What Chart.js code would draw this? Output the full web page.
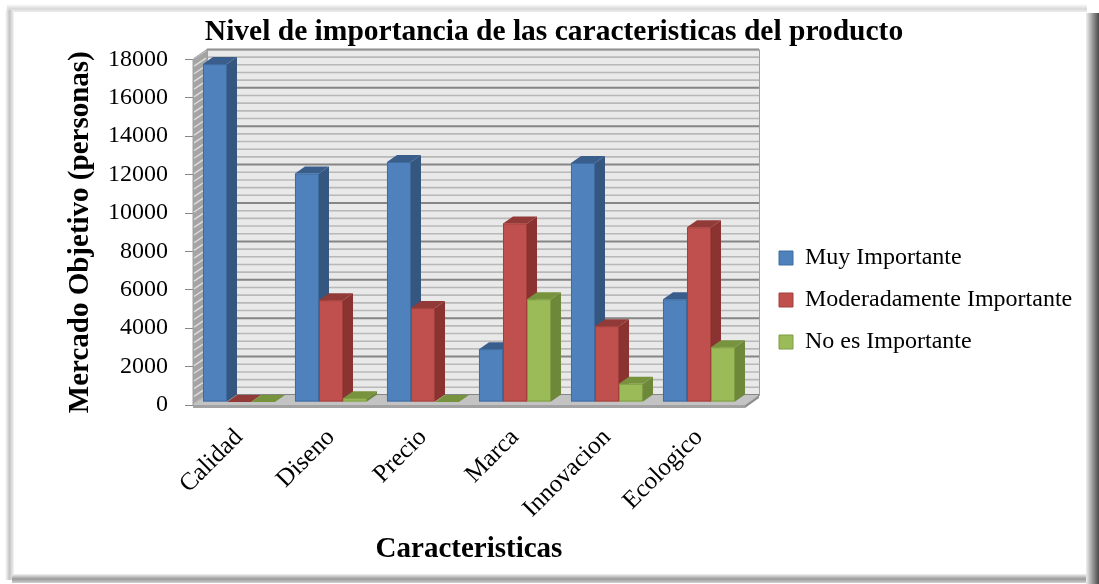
<!DOCTYPE html>
<html>
<head>
<meta charset="utf-8">
<script src="https://cdn.jsdelivr.net/npm/chart.js@4/dist/chart.umd.min.js"></script>
<style>
html,body{margin:0;padding:0;background:#fff;}
#wrap{width:1099px;height:584px;position:relative;}
</style>
</head>
<body>
<div id="wrap"><canvas id="c" width="1099" height="584"></canvas></div>
<script>
// ---- data ----
const categories = ['Calidad', 'Diseno', 'Precio', 'Marca', 'Innovacion', 'Ecologico'];
const seriesNames = ['Muy Importante', 'Moderadamente Importante', 'No es Importante'];
const muyImportante = [17600, 11900, 12500, 2750, 12450, 5350];
const moderadamenteImportante = [0, 5300, 4900, 9300, 3950, 9100];
const noEsImportante = [0, 200, 0, 5350, 950, 2850];
const yMax = 18000;
const yStep = 2000;
const yMinorStep = 400;
const chartTitle = 'Nivel de importancia de las caracteristicas del producto';
const xTitle = 'Caracteristicas';
const yTitle = 'Mercado Objetivo (personas)';

// ---- styles ----
const FONT = "'Liberation Serif', 'Times New Roman', serif";
const faces = [
  {front: '#4F81BD', edge: '#3F6C9F', side: '#35567F', top: '#3A5E8B'},
  {front: '#C0504D', edge: '#A1403D', side: '#8A3331', top: '#923A37'},
  {front: '#9BBB59', edge: '#7F9C44', side: '#6E883A', top: '#77933E'}
];
const BD = {x: 10, y: 7};   // bar depth
const WD = {x: 14, y: 10};  // wall depth
const SET = 3;              // bars set back from front plane
const LEGEND_LEFT = 761;
const LEGEND_TOP = 228;
const TITLE_CENTER = 554;

function poly(ctx, pts) {
  ctx.beginPath();
  ctx.moveTo(pts[0][0], pts[0][1]);
  for (let i = 1; i < pts.length; i++) ctx.lineTo(pts[i][0], pts[i][1]);
  ctx.closePath();
}

const framePlugin = {
  id: 'frame',
  beforeDraw(chart) {
    const ctx = chart.ctx, W = chart.width, H = chart.height;
    ctx.save();
    ctx.fillStyle = '#fff';
    ctx.fillRect(0, 0, W, H);
    let g = ctx.createLinearGradient(0, 4, 0, 12);
    g.addColorStop(0, '#ffffff'); g.addColorStop(0.6, '#d8d8d8'); g.addColorStop(1, '#ededed');
    ctx.fillStyle = g; ctx.fillRect(7, 4, 1080, 8);
    g = ctx.createLinearGradient(5, 0, 14, 0);
    g.addColorStop(0, '#ffffff'); g.addColorStop(0.5, '#c4c4c4'); g.addColorStop(1, '#f4f4f4');
    ctx.fillStyle = g; ctx.fillRect(5, 10, 9, 570);
    g = ctx.createLinearGradient(0, 574, 0, 584);
    g.addColorStop(0, '#f2f2f2'); g.addColorStop(0.5, '#9a9a9a'); g.addColorStop(1, '#e0e0e0');
    ctx.fillStyle = g; ctx.fillRect(12, 574, 1076, 9);
    g = ctx.createLinearGradient(1086, 0, 1099, 0);
    g.addColorStop(0, '#f0f0f0'); g.addColorStop(0.5, '#9a9a9a'); g.addColorStop(1, '#4a4a4a');
    ctx.fillStyle = g; ctx.fillRect(1086, 13, 13, 571);
    ctx.restore();
  }
};

const wallPlugin = {
  id: 'wall',
  beforeDatasetsDraw(chart) {
    const {ctx, chartArea: a, scales: {y}} = chart;
    const top = y.getPixelForValue(yMax), bot = y.getPixelForValue(0);
    const L = a.left, R = a.right;
    ctx.save();
    // back wall
    ctx.fillStyle = '#e9e9e9';
    ctx.fillRect(L + WD.x, top - WD.y, R - L, bot - top);
    // side wall
    ctx.fillStyle = '#a4a4a4';
    poly(ctx, [[L, top], [L + WD.x, top - WD.y], [L + WD.x, bot - WD.y], [L, bot]]);
    ctx.fill();
    // grid lines
    for (let v = 0; v <= yMax; v += yMinorStep) {
      const py = y.getPixelForValue(v);
      const major = v % yStep === 0;
      ctx.strokeStyle = major ? '#858585' : '#b8b8b8';
      ctx.lineWidth = major ? 2 : 1.6;
      ctx.beginPath();
      ctx.moveTo(L + WD.x, py - WD.y);
      ctx.lineTo(R + WD.x, py - WD.y);
      ctx.stroke();
      ctx.strokeStyle = '#dedede';
      ctx.lineWidth = 1.4;
      ctx.beginPath();
      ctx.moveTo(L + 1, py - 1);
      ctx.lineTo(L + WD.x - 1, py - WD.y + 1);
      ctx.stroke();
    }
    // wall outline
    ctx.strokeStyle = '#a0a0a0';
    ctx.lineWidth = 1;
    ctx.strokeRect(L + WD.x + 0.5, top - WD.y + 0.5, R - L, bot - top);
    poly(ctx, [[L, top], [L + WD.x, top - WD.y], [L + WD.x, bot - WD.y], [L, bot]]);
    ctx.stroke();
    // floor
    ctx.fillStyle = '#c3c3c3';
    poly(ctx, [[L, bot], [L + WD.x, bot - WD.y], [R + WD.x, bot - WD.y], [R, bot]]);
    ctx.fill();
    ctx.fillStyle = '#a2a2a2';
    ctx.fillRect(L, bot, R - L, 3);
    ctx.fillStyle = '#8e8e8e';
    poly(ctx, [[R, bot], [R + WD.x, bot - WD.y], [R + WD.x, bot - WD.y + 3], [R, bot + 3]]);
    ctx.fill();
    ctx.restore();
  },
  beforeDatasetDraw() { return false; },
  afterDatasetsDraw(chart) {
    const ctx = chart.ctx;
    const items = [];
    chart.data.datasets.forEach((ds, di) => {
      const meta = chart.getDatasetMeta(di);
      if (meta.hidden) return;
      meta.data.forEach(bar => items.push({bar, di}));
    });
    items.sort((p, q) => p.bar.x - q.bar.x);
    ctx.save();
    items.forEach(({bar, di}) => {
      const {x, y, base, width} = bar.getProps(['x', 'y', 'base', 'width'], true);
      const f = faces[di];
      const l = x - width / 2, r = x + width / 2;
      const t = y - SET, b = base - SET;
      ctx.fillStyle = f.side;
      poly(ctx, [[r, t], [r + BD.x, t - BD.y], [r + BD.x, b - BD.y], [r, b]]);
      ctx.fill();
      ctx.fillStyle = f.top;
      poly(ctx, [[l, t], [l + BD.x, t - BD.y], [r + BD.x, t - BD.y], [r, t]]);
      ctx.fill();
      ctx.fillStyle = f.front;
      ctx.fillRect(l, t, width, b - t);
      if (b - t > 1) {
        ctx.strokeStyle = f.edge;
        ctx.lineWidth = 1;
        ctx.strokeRect(l + 0.5, t + 0.5, width - 1, b - t - 1);
      }
    });
    ctx.restore();
  }
};

const placePlugin = {
  id: 'place',
  afterLayout(chart) {
    const lg = chart.legend;
    if (lg) {
      const dx = LEGEND_LEFT - lg.left, dy = LEGEND_TOP - lg.top;
      lg.left += dx; lg.top += dy; lg.bottom += dy;
      lg.right = chart.width - 8;
    }
    const tb = chart.titleBlock;
    if (tb) {
      const dx = TITLE_CENTER - (tb.left + tb.right) / 2;
      tb.left += dx; tb.right += dx;
    }
  }
};

const datasets = [muyImportante, moderadamenteImportante, noEsImportante].map((d, i) => ({
  label: seriesNames[i],
  data: d,
  backgroundColor: faces[i].front,
  borderColor: faces[i].edge,
  borderWidth: 1,
  categoryPercentage: 0.783,
  barPercentage: 1
}));

new Chart(document.getElementById('c'), {
  type: 'bar',
  data: {labels: categories, datasets},
  plugins: [framePlugin, wallPlugin, placePlugin],
  options: {
    responsive: false,
    animation: false,
    devicePixelRatio: 1,
    layout: {padding: {left: 63, right: 104, top: 10, bottom: 14}},
    plugins: {
      title: {
        display: true,
        text: chartTitle,
        color: '#000',
        font: {family: FONT, size: 29.5, weight: 'bold'},
        padding: {top: 5, bottom: 9}
      },
      legend: {
        position: 'right',
        align: 'start',
        maxWidth: 250,
        labels: {
          color: '#000',
          font: {family: FONT, size: 24},
          boxWidth: 14,
          boxHeight: 14,
          padding: 18
        }
      },
      tooltip: {enabled: false}
    },
    scales: {
      x: {
        afterFit(s) { s.height = 165; },
        grid: {display: false, drawTicks: false},
        border: {display: false},
        ticks: {
          color: '#000',
          font: {family: FONT, size: 25},
          minRotation: 45,
          maxRotation: 45,
          autoSkip: false,
          padding: 18
        },
        title: {
          display: true,
          text: xTitle,
          color: '#000',
          font: {family: FONT, size: 29, weight: 'bold'},
          padding: {top: 0, bottom: 3}
        }
      },
      y: {
        min: 0,
        max: yMax,
        afterFit(s) { s.width = 130; },
        grid: {drawOnChartArea: false, drawTicks: true, tickLength: 8, color: '#868686'},
        border: {display: false},
        ticks: {
          stepSize: yStep,
          color: '#000',
          font: {family: FONT, size: 24},
          padding: 17,
          callback: v => String(v)
        },
        title: {
          display: true,
          text: yTitle,
          color: '#000',
          font: {family: FONT, size: 29, weight: 'bold'},
          padding: {top: 0, bottom: 0}
        }
      }
    }
  }
});
</script>
</body>
</html>
